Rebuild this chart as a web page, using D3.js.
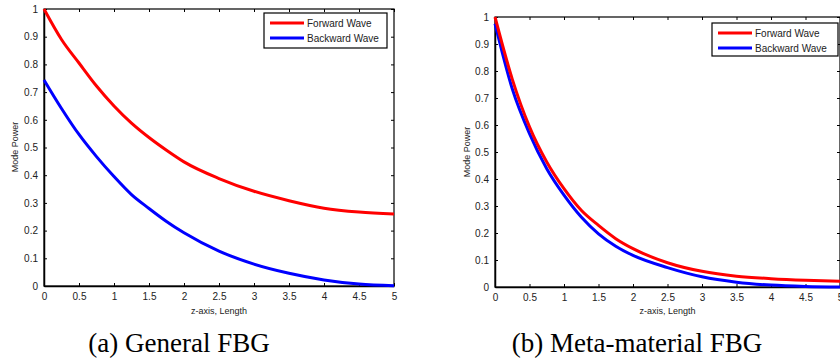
<!DOCTYPE html>
<html>
<head>
<meta charset="utf-8">
<script src="https://cdn.jsdelivr.net/npm/d3@7"></script>
<style>
	html, body { margin: 0; padding: 0; background: #fff; overflow: hidden; }
	#canvas { width: 840px; height: 363px; }
	.tick text { font-family: 'Liberation Sans', Arial, sans-serif; font-size: 10px; fill: #222; }
</style>
</head>
<body>
<div id="canvas"></div>
<script>
// z positions shared by all series
const zValues = [0, 0.25, 0.5, 0.75, 1, 1.25, 1.5, 1.75, 2, 2.5, 3, 3.5, 4, 4.5, 5];
const xTicks = [0, 0.5, 1, 1.5, 2, 2.5, 3, 3.5, 4, 4.5, 5];
const yTicks = [0, 0.1, 0.2, 0.3, 0.4, 0.5, 0.6, 0.7, 0.8, 0.9, 1];

// (a) General FBG
const generalForward = [1.0, 0.89, 0.805, 0.722, 0.65, 0.588, 0.536, 0.49, 0.448, 0.388, 0.342, 0.308, 0.281, 0.267, 0.26];
const generalBackward = [0.744, 0.641, 0.547, 0.467, 0.395, 0.33, 0.28, 0.233, 0.192, 0.126, 0.079, 0.046, 0.022, 0.007, 0.001];

// (b) Meta-material FBG
const metaForward = [1.0, 0.77, 0.593, 0.463, 0.364, 0.284, 0.228, 0.179, 0.142, 0.09, 0.058, 0.04, 0.031, 0.025, 0.021];
const metaBackward = [0.975, 0.734, 0.568, 0.438, 0.34, 0.259, 0.197, 0.151, 0.117, 0.072, 0.038, 0.018, 0.007, 0.002, 0.0];

const seriesNames = ['Forward Wave', 'Backward Wave'];
const seriesColors = ['#ff0000', '#0000ff'];
const captions = ['(a) General FBG', '(b) Meta-material FBG'];

const panels = [
	{
		series: [generalForward, generalBackward],
		x: [44, 394], y: [286, 9],
		legend: { x: 264, y: 13, w: 123, h: 35 },
		yLabel: { x: 15, y: 147 },
		xLabelY: 311,
		caption: { x: 179, y: 352, text: captions[0] },
	},
	{
		series: [metaForward, metaBackward],
		x: [495, 840], y: [287, 17],
		legend: { x: 712, y: 23, w: 126, h: 33 },
		yLabel: { x: 467, y: 152 },
		xLabelY: 311,
		caption: { x: 637, y: 352, text: captions[1] },
	},
];

const svg = d3.select('#canvas').append('svg').attr('width', 840).attr('height', 363);

panels.forEach(drawPanel);

function drawPanel(p) {
	const x = d3.scaleLinear().domain([0, 5]).range(p.x);
	const y = d3.scaleLinear().domain([0, 1]).range(p.y);
	const g = svg.append('g');

	// frame
	g.append('rect')
		.attr('x', p.x[0]).attr('y', p.y[1])
		.attr('width', p.x[1] - p.x[0]).attr('height', p.y[0] - p.y[1])
		.attr('fill', 'none').attr('stroke', '#000').attr('stroke-width', 1.2);

	// bottom axis with inward ticks
	g.append('g')
		.attr('transform', `translate(0,${p.y[0]})`)
		.call(d3.axisBottom(x).tickValues(xTicks).tickFormat(d => String(d)).tickSize(-3).tickSizeOuter(0).tickPadding(7))
		.call(a => a.select('.domain').attr('stroke-width', 1.5));
	// top ticks
	g.append('g')
		.attr('transform', `translate(0,${p.y[1]})`)
		.call(d3.axisTop(x).tickValues(xTicks).tickFormat('').tickSize(-3).tickSizeOuter(0))
		.call(a => a.select('.domain').remove());
	// left axis
	g.append('g')
		.attr('transform', `translate(${p.x[0]},0)`)
		.call(d3.axisLeft(y).tickValues(yTicks).tickFormat(d => String(d)).tickSize(-3).tickSizeOuter(0).tickPadding(6))
		.call(a => a.select('.domain').attr('stroke-width', 1.5));
	// right ticks
	g.append('g')
		.attr('transform', `translate(${p.x[1]},0)`)
		.call(d3.axisRight(y).tickValues(yTicks).tickFormat('').tickSize(-3).tickSizeOuter(0))
		.call(a => a.select('.domain').remove());

	g.selectAll('.tick line').attr('stroke', '#000');

	const line = d3.line()
		.x((d, i) => x(zValues[i]))
		.y(d => y(d))
		.curve(d3.curveMonotoneX);

	// backward first, forward on top
	[1, 0].forEach(i => {
		g.append('path')
			.datum(p.series[i])
			.attr('d', line)
			.attr('fill', 'none')
			.attr('stroke', seriesColors[i])
			.attr('stroke-width', 3);
	});

	// legend
	const lg = g.append('g').attr('transform', `translate(${p.legend.x},${p.legend.y})`);
	lg.append('rect')
		.attr('width', p.legend.w).attr('height', p.legend.h)
		.attr('fill', '#fff').attr('stroke', '#000').attr('stroke-width', 1.2);
	seriesNames.forEach((name, i) => {
		const ly = 10 + i * 15;
		lg.append('line')
			.attr('x1', 6).attr('x2', 40).attr('y1', ly).attr('y2', ly)
			.attr('stroke', seriesColors[i]).attr('stroke-width', 3);
		lg.append('text')
			.attr('x', 43).attr('y', ly).attr('dy', '0.35em')
			.attr('font-family', "'Liberation Sans', Arial, sans-serif")
			.attr('font-size', 10).attr('fill', '#222')
			.text(name);
	});

	// axis labels
	g.append('text')
		.attr('transform', `translate(${p.yLabel.x},${p.yLabel.y}) rotate(-90)`)
		.attr('text-anchor', 'middle').attr('dy', '0.35em')
		.attr('font-family', "'Liberation Sans', Arial, sans-serif")
		.attr('font-size', 9).attr('fill', '#222')
		.text('Mode Power');
	g.append('text')
		.attr('x', (p.x[0] + p.x[1]) / 2).attr('y', p.xLabelY)
		.attr('text-anchor', 'middle').attr('dy', '0.35em')
		.attr('font-family', "'Liberation Sans', Arial, sans-serif")
		.attr('font-size', 9).attr('fill', '#222')
		.text('z-axis, Length');

	// caption
	g.append('text')
		.attr('x', p.caption.x).attr('y', p.caption.y)
		.attr('text-anchor', 'middle')
		.attr('font-family', "'Liberation Serif', 'Times New Roman', serif")
		.attr('font-size', 27).attr('fill', '#000')
		.text(p.caption.text);
}
</script>
</body>
</html>
